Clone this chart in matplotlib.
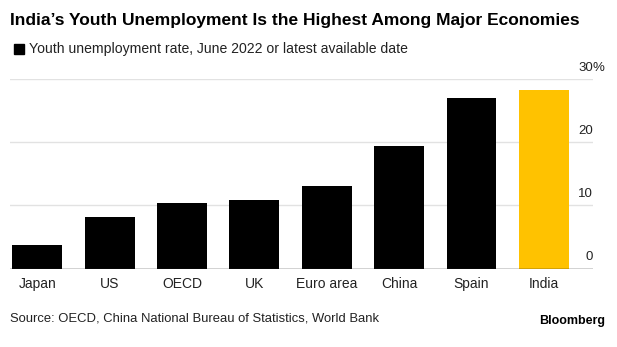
import matplotlib
matplotlib.use("Agg")
import matplotlib.pyplot as plt
from matplotlib.patches import Rectangle

countries = ["Japan", "US", "OECD", "UK", "Euro area", "China", "Spain", "India"]
rates = [3.8, 8.2, 10.4, 10.8, 13.1, 19.4, 27.1, 28.3]
yticks = [0, 10, 20, 30]

bar_col = "#000000"
india_col = "#FFC200"
grid_col = "#e2e2e2"
text_col = "#222222"

plt.rcParams["font.family"] = ["Liberation Sans", "DejaVu Sans"]

fig = plt.figure(figsize=(6.17, 3.47), dpi=100)
ax = fig.add_axes([0.017, 0.2262, 0.9437, 0.5453])

x = list(range(len(countries)))
colors = [india_col if c == "India" else bar_col for c in countries]
ax.bar(x, rates, width=0.69, color=colors, zorder=3)

ax.set_xlim(-0.37, 7.675)
ax.set_ylim(0, 30)

# gridlines + right-side labels sitting above them
for t in yticks:
    if t == 0:
        ax.axhline(0, color="#222222", lw=1.0, zorder=4)
    else:
        ax.axhline(t, color=grid_col, lw=1.0, zorder=1)
    ax.annotate(str(t), xy=(1.0, t), xycoords=("axes fraction", "data"),
                xytext=(0, 4), textcoords="offset points",
                ha="right", va="bottom", fontsize=9.5, color=text_col)
ax.annotate("%", xy=(1.0, 30), xycoords=("axes fraction", "data"),
            xytext=(0, 4), textcoords="offset points",
            ha="left", va="bottom", fontsize=9.5, color=text_col)

ax.set_xticks(x)
ax.set_xticklabels(countries, fontsize=10, color=text_col)
ax.tick_params(axis="x", length=0, pad=6)
ax.set_yticks([])
for s in ax.spines.values():
    s.set_visible(False)

fig.text(0.016, 0.94, "India\u2019s Youth Unemployment Is the Highest Among Major Economies",
         fontsize=12.5, fontweight="bold", color="#000000", va="center")
# legend square
fig.patches.append(Rectangle((14 / 617, 1 - 54 / 347), 10 / 617, 10 / 347,
                             transform=fig.transFigure, color="#000000"))
fig.text(29 / 617, 1 - 49 / 347, "Youth unemployment rate, June 2022 or latest available date",
         fontsize=10.1, color=text_col, va="center")
fig.text(0.016, 0.083, "Source: OECD, China National Bureau of Statistics, World Bank",
         fontsize=9.35, color=text_col, va="center")
fig.text(0.98, 0.075, "Bloomberg", fontsize=9, fontweight="bold", color="#000000",
         ha="right", va="center")

fig.savefig("out.png", dpi=100)
